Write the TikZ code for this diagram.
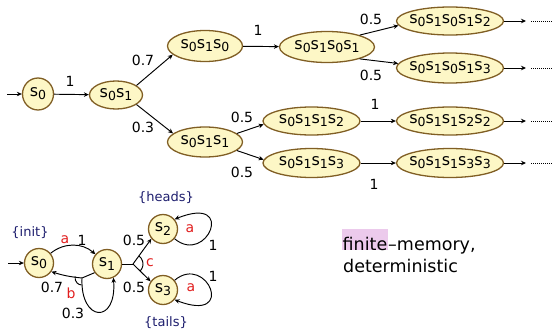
\documentclass[tikz,border=0pt]{standalone}
\usepackage{fontspec}
\setmainfont{DejaVu Sans}
\usetikzlibrary{arrows.meta,shapes.geometric}

\definecolor{statefill}{RGB}{253,247,198}
\definecolor{stateline}{RGB}{128,94,36}
\definecolor{proplabel}{RGB}{30,30,110}
\definecolor{actred}{RGB}{225,30,30}
\definecolor{marker}{RGB}{236,202,236}

% state name s_i with a lowered index
\newcommand\stname[1]{s\raisebox{-3.2pt}{\fontsize{12.5}{12.5}\selectfont #1}}

\tikzset{
  st/.style={ellipse, draw=stateline, fill=statefill, line width=1.3pt,
             inner xsep=-6pt, inner ysep=0pt, font=\fontsize{16}{18}\selectfont},
  circ/.style={circle, draw=stateline, fill=statefill, line width=1.3pt,
               inner sep=0pt, minimum size=29pt, font=\fontsize{16}{18}\selectfont},
  arr/.style={line width=0.95pt, -{Stealth[length=5pt,width=4.5pt]}},
  ln/.style={line width=0.95pt},
  dots/.style={line width=0.8pt, dash pattern=on 0.9pt off 1.1pt},
  lbl/.style={inner sep=0pt, font=\fontsize{14}{16}\selectfont},
  act/.style={lbl, text=actred},
  prop/.style={inner sep=0pt, text=proplabel, font=\fontsize{13}{15}\selectfont},
}

\begin{document}
\begin{tikzpicture}[x=1pt,y=1pt]
\useasboundingbox (0,0) rectangle (554,-332);

% ---------- tree of finite paths ----------
\coordinate (in1) at (7,-94);
\node[st, minimum width=31, minimum height=32] (n0) at (38,-94) {\stname0};
\node[st, minimum width=53, minimum height=28] (n01) at (116,-95) {\stname0\stname1};
\node[st, minimum width=75, minimum height=31] (n010) at (205,-46) {\stname0\stname1\stname0};
\node[st, minimum width=75, minimum height=30] (n011) at (205,-142) {\stname0\stname1\stname1};
\node[st, minimum width=95, minimum height=31] (n0101) at (327,-47) {\stname0\stname1\stname0\stname1};
\node[st, minimum width=107, minimum height=28] (n01012) at (450,-21) {\stname0\stname1\stname0\stname1\stname2};
\node[st, minimum width=107, minimum height=30] (n01013) at (450,-68) {\stname0\stname1\stname0\stname1\stname3};
\node[st, minimum width=97, minimum height=28] (n0112) at (311.5,-121) {\stname0\stname1\stname1\stname2};
\node[st, minimum width=97, minimum height=29] (n0113) at (311.5,-163) {\stname0\stname1\stname1\stname3};
\node[st, minimum width=107, minimum height=28] (n01122) at (450,-121) {\stname0\stname1\stname1\stname2\stname2};
\node[st, minimum width=107, minimum height=29] (n01133) at (450,-163) {\stname0\stname1\stname1\stname3\stname3};

\draw[arr] (in1) -- (n0);
\draw[arr] (n0) -- (n01);
\draw[arr] (n01.25) -- (n010.195);
\draw[arr] (n01.-25) -- (n011.165);
\draw[arr] (n010) -- (n0101);
\draw[arr] (n0101.20) -- (n01012.185);
\draw[arr] (n0101.-20) -- (n01013.175);
\draw[arr] (n011.15) -- (n0112.184);
\draw[arr] (n011.-15) -- (n0113.176);
\draw[arr] (n0112) -- (n01122);
\draw[arr] (n0113) -- (n01133);

% continuations
\foreach \nm/\yy in {n01012/-21, n01013/-68, n01122/-121, n01133/-163}{
  \coordinate (\nm-e) at (526,\yy);
  \coordinate (\nm-f) at (531,\yy);
  \coordinate (\nm-g) at (552,\yy);
  \draw[arr] (\nm) -- (\nm-e);
  \draw[dots] (\nm-f) -- (\nm-g);
}

\node[lbl] (p1) at (70,-81) {1};
\node[lbl] (p2) at (143,-60) {0.7};
\node[lbl] (p3) at (143,-127) {0.3};
\node[lbl] (p4) at (258,-30) {1};
\node[lbl] (p5) at (371,-19) {0.5};
\node[lbl] (p6) at (371,-75) {0.5};
\node[lbl] (p7) at (242,-117) {0.5};
\node[lbl] (p8) at (242,-172) {0.5};
\node[lbl] (p9) at (375,-104) {1};
\node[lbl] (p10) at (374,-184) {1};

% ---------- the Markov decision process ----------
\coordinate (in2) at (8,-263);
\node[circ] (b0) at (39,-263) {\stname0};
\node[circ] (b1) at (107,-264) {\stname1};
\node[circ] (b2) at (163,-229) {\stname2};
\node[circ] (b3) at (163,-290) {\stname3};

\draw[arr] (in2) -- (b0);
\draw[arr] (b0.40) to[bend left=40] (b1.140);

% action b
\coordinate (bb) at (82,-278);
\draw[ln] (b1.215) -- (bb);
\draw[arr] (bb) to[bend left=6] (b0.-35);
\draw[arr] (bb) .. controls (80,-322) and (117,-325) .. (b1.-65);
\draw[ln] (bb) ++(167:7) arc[start angle=167, end angle=267, radius=7];

% action c
\coordinate (cc) at (133,-264);
\draw[ln] (b1) -- (cc);
\draw[arr] (cc) -- (b2.220);
\draw[arr] (cc) -- (b3.145);
\draw[ln] (cc) ++(-44:10) arc[start angle=-44, end angle=54, radius=10];

% self loops
\draw[arr] (b2.-40) .. controls (207,-266) and (237,-194) .. (b2.40);
\draw[arr] (b3.40) .. controls (207,-253) and (237,-324) .. (b3.-40);

\node[prop] (pi) at (30,-233) {\{init\}};
\node[prop] (ph) at (166,-198) {\{heads\}};
\node[prop] (pt) at (166,-323) {\{tails\}};

\node[act] (qa1) at (65,-240) {a};
\node[lbl] (q1) at (82,-240) {1};
\node[lbl] (q2) at (52,-287) {0.7};
\node[act] (qb) at (71,-293) {b};
\node[lbl] (q3) at (73,-313) {0.3};
\node[lbl] (q4) at (134,-240) {0.5};
\node[lbl] (q5) at (134,-287) {0.5};
\node[act] (qc) at (150,-263) {c};
\node[act] (qa2) at (190,-229) {a};
\node[lbl] (q6) at (213,-245) {1};
\node[act] (qa3) at (191,-288) {a};
\node[lbl] (q7) at (213,-276) {1};

% ---------- remark ----------
\node[fill=marker, inner xsep=0.5pt, inner ysep=0pt, text depth=0pt, text height=21pt,
      anchor=base west, font=\fontsize{17.5}{20}\selectfont] (fin) at (342,-250) {finite};
\node[inner sep=0pt, anchor=base west, font=\fontsize{17.5}{20}\selectfont]
      (mem) at (fin.base east) {–memory,};
\node[inner sep=0pt, anchor=base west, font=\fontsize{17.5}{20}\selectfont]
      (det) at (343,-272) {deterministic};
\end{tikzpicture}
\end{document}
